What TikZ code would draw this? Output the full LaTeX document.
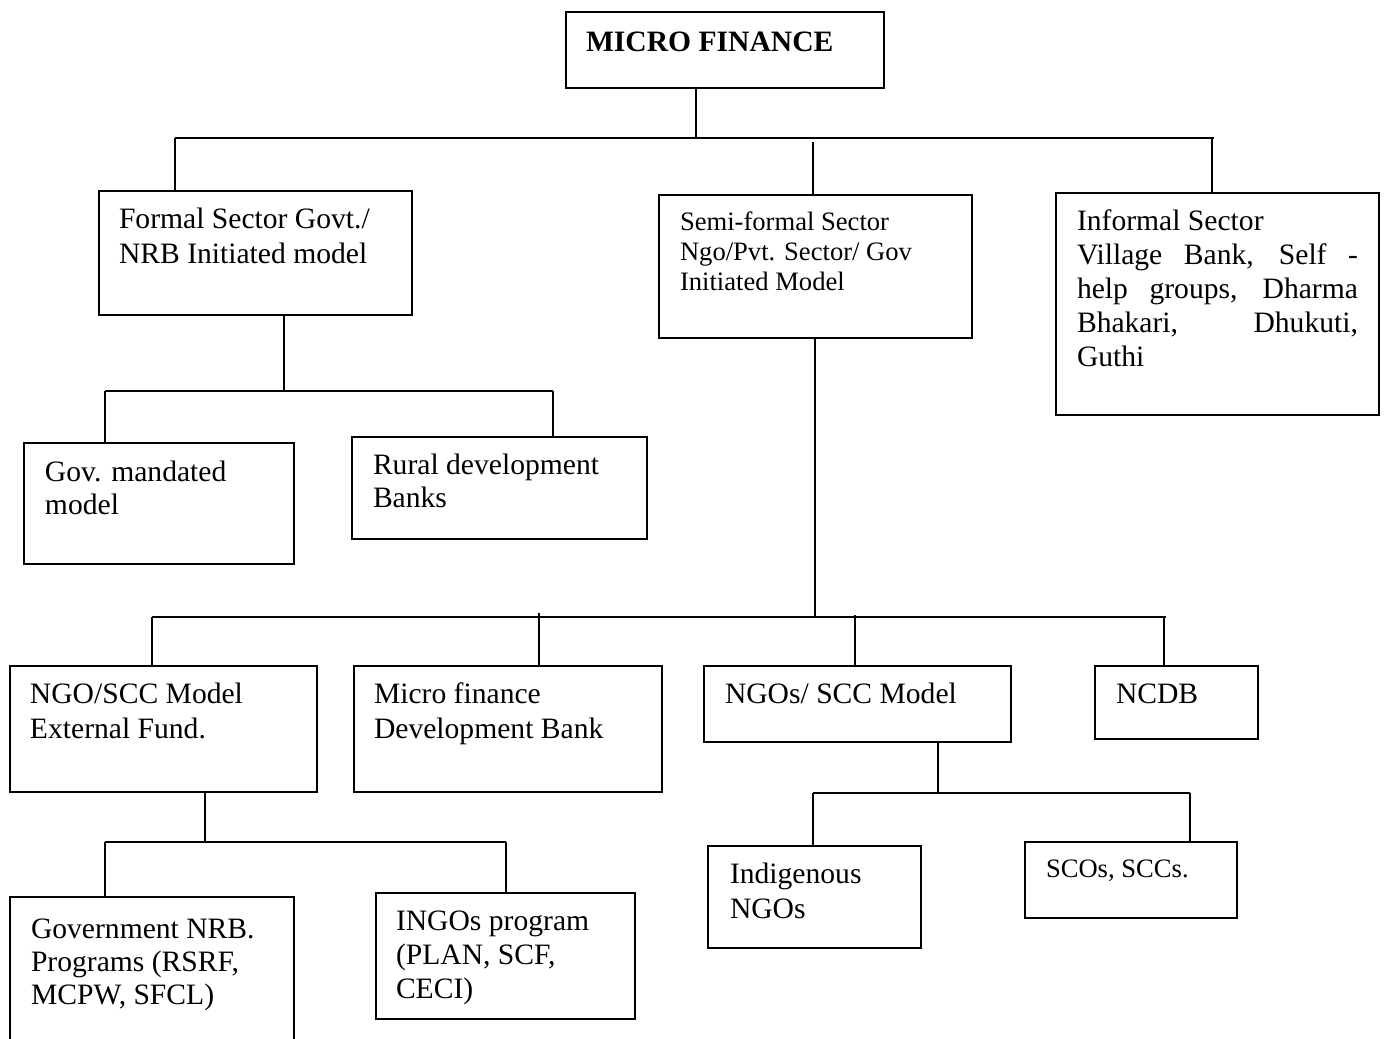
\documentclass[tikz,border=0pt]{standalone}
\usepackage{fontspec}
\setmainfont{Liberation Serif}
\newcommand{\bigf}{\fontsize{29.6pt}{34pt}\selectfont}
\newcommand{\smallf}{\fontsize{26.6pt}{30pt}\selectfont}
\newcommand{\lines}[2]{\begin{minipage}[t]{#1}\raggedright #2\end{minipage}}
\tikzset{
  box/.style={draw, line width=1.8pt, rectangle, anchor=north west, inner sep=0pt, outer sep=0pt},
  txt/.style={anchor=base west, inner sep=0pt, outer sep=0pt, font=\bigf},
  stxt/.style={anchor=base west, inner sep=0pt, outer sep=0pt, font=\smallf},
  conn/.style={line width=1.8pt}
}
\begin{document}
\begin{tikzpicture}[x=1pt,y=-1pt]
% ---------- boxes ----------
\node[box, minimum width=318pt, minimum height=76pt] (mf) at (566,12) {};
\node[box, minimum width=313pt, minimum height=124pt] (formal) at (99,191) {};
\node[box, minimum width=313pt, minimum height=143pt] (semi) at (659,195) {};
\node[box, minimum width=323pt, minimum height=222pt] (informal) at (1056,193) {};
\node[box, minimum width=270pt, minimum height=121pt] (gov) at (24,443) {};
\node[box, minimum width=295pt, minimum height=102pt] (rural) at (352,437) {};
\node[box, minimum width=307pt, minimum height=126pt] (ngoscc) at (10,666) {};
\node[box, minimum width=308pt, minimum height=126pt] (mfdb) at (354,666) {};
\node[box, minimum width=307pt, minimum height=76pt] (ngos) at (704,666) {};
\node[box, minimum width=163pt, minimum height=73pt] (ncdb) at (1095,666) {};
\node[box, minimum width=284pt, minimum height=170pt] (govnrb) at (10,897) {};
\node[box, minimum width=259pt, minimum height=126pt] (ingos) at (376,893) {};
\node[box, minimum width=213pt, minimum height=102pt] (indig) at (708,846) {};
\node[box, minimum width=212pt, minimum height=76pt] (scos) at (1025,842) {};
% ---------- texts ----------
\node[txt, font=\bigf\bfseries] (mft) at (586,51) {MICRO FINANCE};
\node[txt] (formalt) at (119,228) {\lines{290pt}{\bigf\baselineskip=35pt Formal Sector Govt./\\NRB Initiated model}};
\node[stxt] (semit) at (680,230) {\lines{290pt}{\smallf Semi-formal Sector\\Ngo/Pvt. Sector/ Gov\\Initiated Model}};
\node[txt] (informalt) at (1077,230) {\begin{minipage}[t]{281pt}\bigf\baselineskip=34pt
Informal Sector\\
\makebox[281pt][s]{Village Bank, Self -}\\
\makebox[281pt][s]{help groups, Dharma}\\
\makebox[281pt][s]{Bhakari, Dhukuti,}\\
Guthi\end{minipage}};
\node[txt] (govt) at (45,481) {\lines{240pt}{\bigf\baselineskip=33pt Gov. mandated\\model}};
\node[txt] (ruralt) at (373,474) {\lines{260pt}{\bigf\baselineskip=33pt Rural development\\Banks}};
\node[txt] (ngoscct) at (30,703) {\lines{280pt}{\bigf\baselineskip=35pt NGO/SCC Model\\External Fund.}};
\node[txt] (mfdbt) at (374,703) {\lines{280pt}{\bigf\baselineskip=35pt Micro finance\\Development Bank}};
\node[txt] (ngost) at (725,703) {NGOs/ SCC Model};
\node[txt] (ncdbt) at (1116,703) {NCDB};
\node[txt] (govnrbt) at (31,938) {\lines{260pt}{\bigf\baselineskip=33pt Government NRB.\\Programs (RSRF,\\MCPW, SFCL)}};
\node[txt] (ingost) at (396,930) {\lines{230pt}{\bigf\baselineskip=34pt INGOs program\\(PLAN, SCF,\\CECI)}};
\node[txt] (indigt) at (730,883) {\lines{180pt}{\bigf\baselineskip=35pt Indigenous\\NGOs}};
\node[stxt] (scost) at (1046,877) {SCOs, SCCs.};
% ---------- connectors ----------
% level 1
\coordinate (mfs) at (696,88);
\coordinate (j0) at (696,138);
\coordinate (b1l) at (175,138);
\coordinate (b1r) at (1214,138);
\coordinate (d1) at (813,142);
\coordinate (d2) at (1212,138);
\draw[conn] (mfs) -- (j0);
\draw[conn] (b1l) -- (b1r);
\draw[conn] (b1l) -- (b1l |- formal.north);
\draw[conn] (d1) -- (d1 |- semi.north);
\draw[conn] (d2) -- (d2 |- informal.north);
% formal branch
\coordinate (fs) at (284,315);
\coordinate (j1) at (284,391);
\coordinate (b2l) at (105,391);
\coordinate (b2r) at (553,391);
\draw[conn] (fs) -- (j1);
\draw[conn] (b2l) -- (b2r);
\draw[conn] (b2l) -- (b2l |- gov.north);
\draw[conn] (b2r) -- (b2r |- rural.north);
% semi-formal branch
\coordinate (ss) at (815,338);
\coordinate (j2) at (815,617);
\coordinate (b3l) at (152,617);
\coordinate (b3r) at (1166,617);
\coordinate (b3a) at (539,613);
\coordinate (b3b) at (855,615);
\coordinate (b3c) at (1164,617);
\draw[conn] (ss) -- (j2);
\draw[conn] (b3l) -- (b3r);
\draw[conn] (b3l) -- (b3l |- ngoscc.north);
\draw[conn] (b3a) -- (b3a |- mfdb.north);
\draw[conn] (b3b) -- (b3b |- ngos.north);
\draw[conn] (b3c) -- (b3c |- ncdb.north);
% NGO/SCC branch
\coordinate (ns) at (205,792);
\coordinate (j3) at (205,842);
\coordinate (b4l) at (105,842);
\coordinate (b4r) at (506,842);
\draw[conn] (ns) -- (j3);
\draw[conn] (b4l) -- (b4r);
\draw[conn] (b4l) -- (b4l |- govnrb.north);
\draw[conn] (b4r) -- (b4r |- ingos.north);
% NGOs/SCC branch
\coordinate (gs) at (938,742);
\coordinate (j4) at (938,793);
\coordinate (b5l) at (813,793);
\coordinate (b5r) at (1190,793);
\draw[conn] (gs) -- (j4);
\draw[conn] (b5l) -- (b5r);
\draw[conn] (b5l) -- (b5l |- indig.north);
\draw[conn] (b5r) -- (b5r |- scos.north);
% page size
\pgfresetboundingbox
\useasboundingbox (0,0) rectangle (1385,1039);
\end{tikzpicture}
\end{document}
